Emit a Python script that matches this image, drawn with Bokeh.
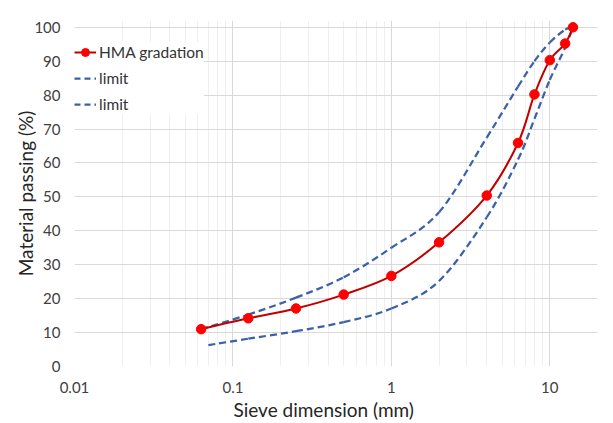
import numpy as np
from bokeh.plotting import figure
from bokeh.models import (Range1d, FixedTicker, Legend, LegendItem, ColumnDataSource, Title)
from bokeh.embed import file_html
from bokeh.resources import INLINE

# ---- data ----
sieve = [0.063, 0.125, 0.25, 0.5, 1, 2, 4, 6.3, 8, 10, 12.5, 14]
hma_passing = [11.0, 14.2, 17.1, 21.2, 26.7, 36.6, 50.4, 65.9, 80.2, 90.3, 95.2, 100.0]

upper_sieve = [0.063, 0.125, 0.25, 0.5, 1, 2, 4, 6.3, 8, 10, 12.5, 14]
upper_limit = [11.0, 15.3, 20.3, 26.3, 35.0, 45.5, 67.5, 82.5, 90.0, 95.5, 99.3, 100.0]

lower_sieve = [0.07, 0.125, 0.25, 0.5, 1, 2, 4, 6.3, 8, 10, 12.5, 14]
lower_limit = [6.3, 8.2, 10.4, 13.1, 17.1, 25.2, 44.0, 61.0, 73.0, 84.5, 94.0, 100.0]

x_major_ticks = [0.01, 0.1, 1, 10]
x_minor_ticks = [m * d for d in (0.01, 0.1, 1) for m in range(2, 10)] + [20]
y_ticks = [0, 10, 20, 30, 40, 50, 60, 70, 80, 90, 100]

FONT = "Lato"
RED_LINE = "#c00000"
RED_MARK = "#ff0000"
BLUE = "#3b61a6"


def smooth_source(xs, ys):
    """Catmull-Rom style bezier control points (computed in log-x space)."""
    lx = np.log10(np.asarray(xs, dtype=float))
    y = np.asarray(ys, dtype=float)
    n = len(lx)
    d = dict(x0=[], y0=[], x1=[], y1=[], cx0=[], cy0=[], cx1=[], cy1=[])
    for i in range(n - 1):
        p0 = i - 1 if i > 0 else i
        p3 = i + 2 if i + 2 < n else i + 1
        c1x = lx[i] + (lx[i + 1] - lx[p0]) / 6.0
        c1y = y[i] + (y[i + 1] - y[p0]) / 6.0
        c2x = lx[i + 1] - (lx[p3] - lx[i]) / 6.0
        c2y = y[i + 1] - (y[p3] - y[i]) / 6.0
        d["x0"].append(10 ** lx[i]); d["y0"].append(y[i])
        d["x1"].append(10 ** lx[i + 1]); d["y1"].append(y[i + 1])
        d["cx0"].append(10 ** c1x); d["cy0"].append(c1y)
        d["cx1"].append(10 ** c2x); d["cy1"].append(c2y)
    return ColumnDataSource(d)


p = figure(width=613, height=423, x_axis_type="log",
           x_range=Range1d(0.01, 20), y_range=Range1d(0, 102),
           output_backend="svg", toolbar_location=None,
           min_border_left=74, min_border_right=16,
           min_border_top=20, min_border_bottom=57)
p.outline_line_color = None
p.background_fill_color = "white"
p.border_fill_color = "white"

# axes
p.xaxis.ticker = FixedTicker(ticks=x_major_ticks, minor_ticks=x_minor_ticks)
p.yaxis.ticker = FixedTicker(ticks=y_ticks, minor_ticks=[])
p.xaxis.major_label_overrides = {0.01: "0.01", 0.1: "0.1", 1: "1", 10: "10"}
for ax in (p.xaxis, p.yaxis):
    ax.axis_line_color = None
    ax.major_tick_line_color = None
    ax.minor_tick_line_color = None
    ax.major_label_text_font = FONT
    ax.major_label_text_font_size = "15px"
    ax.major_label_text_color = "#404040"
    ax.axis_label_text_font = FONT
    ax.axis_label_text_font_size = "19px"
    ax.axis_label_text_font_style = "normal"
    ax.axis_label_text_color = "#262626"
p.yaxis.axis_label = "Material passing (%)"
p.xaxis.major_label_standoff = 9
p.yaxis.major_label_standoff = 8
p.yaxis.axis_label_standoff = -6

# x-axis title, placed like the original (slightly left of the frame centre)
xtitle = Title(text="Sieve dimension (mm)", align="left", offset=159,
               text_font=FONT, text_font_size="19px", text_font_style="normal",
               text_color="#262626", standoff=0)
p.add_layout(xtitle, "below")

# grid
p.xgrid.grid_line_color = "#d9d9d9"
p.xgrid.minor_grid_line_color = "#efefef"
p.ygrid.grid_line_color = "#d9d9d9"
p.xgrid.grid_line_width = 1
p.ygrid.grid_line_width = 1

# limits (dashed, smooth)
p.bezier(x0="x0", y0="y0", x1="x1", y1="y1", cx0="cx0", cy0="cy0",
         cx1="cx1", cy1="cy1", source=smooth_source(upper_sieve, upper_limit),
         line_color=BLUE, line_width=2.25, line_dash="7 4")
p.bezier(x0="x0", y0="y0", x1="x1", y1="y1", cx0="cx0", cy0="cy0",
         cx1="cx1", cy1="cy1", source=smooth_source(lower_sieve, lower_limit),
         line_color=BLUE, line_width=2.25, line_dash="7 4")
# HMA gradation (smooth)
p.bezier(x0="x0", y0="y0", x1="x1", y1="y1", cx0="cx0", cy0="cy0",
         cx1="cx1", cy1="cy1", source=smooth_source(sieve, hma_passing),
         line_color=RED_LINE, line_width=2)
marks = p.scatter(sieve, hma_passing, size=9.5, fill_color=RED_MARK,
                  line_color=RED_MARK)

# legend proxies (single-point lines draw nothing on the plot)
leg_red = p.line([sieve[0]], [hma_passing[0]], line_color=RED_LINE, line_width=2)
leg_blue1 = p.line([upper_sieve[0]], [upper_limit[0]], line_color=BLUE,
                   line_width=2.25, line_dash="6 4")
leg_blue2 = p.line([lower_sieve[0]], [lower_limit[0]], line_color=BLUE,
                   line_width=2.25, line_dash="6 4")

legend = Legend(items=[
    LegendItem(label="HMA gradation", renderers=[leg_red, marks]),
    LegendItem(label="limit", renderers=[leg_blue1]),
    LegendItem(label="limit", renderers=[leg_blue2]),
], location=(0, 252))
legend.background_fill_color = "white"
legend.background_fill_alpha = 1.0
legend.border_line_color = None
legend.label_text_font = FONT
legend.label_text_font_size = "15.5px"
legend.label_text_color = "#333333"
legend.label_height = 20
legend.glyph_height = 20
legend.glyph_width = 22
legend.label_standoff = 3
legend.spacing = 6
legend.margin = 0
legend.padding = 4
p.add_layout(legend, "center")

open("out.html", "w").write(file_html(p, INLINE))
